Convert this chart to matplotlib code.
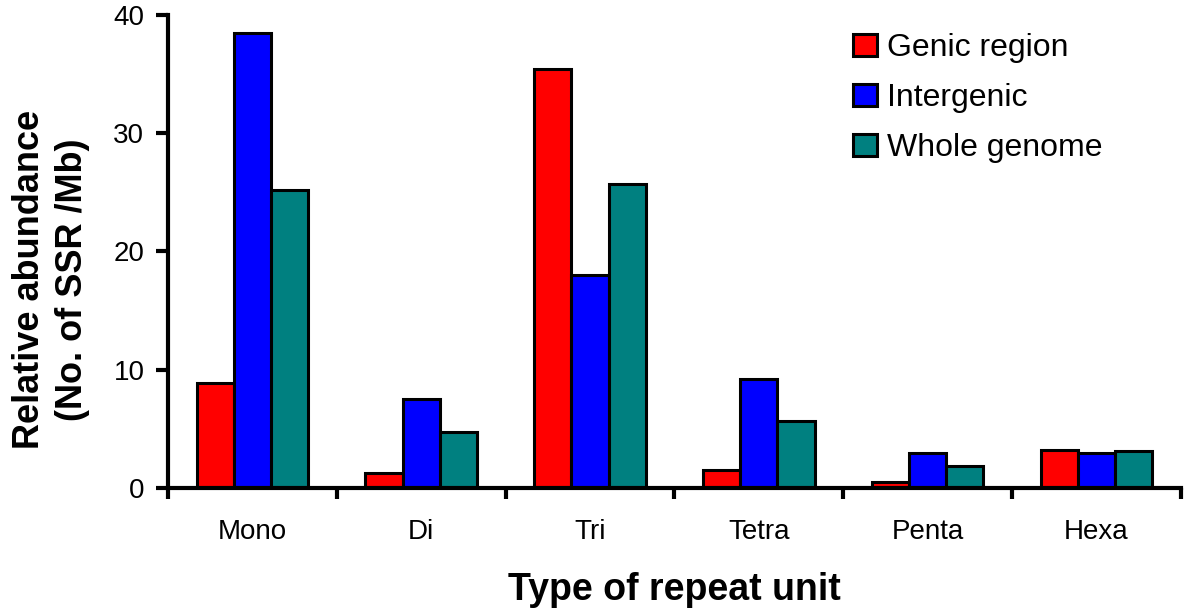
import numpy as np
import matplotlib.pyplot as plt
import matplotlib as mpl
from matplotlib.ticker import FixedLocator

mpl.rcParams["font.family"] = ["Liberation Sans", "DejaVu Sans"]

categories = ["Mono", "Di", "Tri", "Tetra", "Penta", "Hexa"]
genic = [8.9, 1.3, 35.4, 1.5, 0.5, 3.2]
intergenic = [38.5, 7.5, 18.0, 9.2, 3.0, 3.0]
whole = [25.2, 4.7, 25.7, 5.7, 1.9, 3.1]

series = [("Genic region", genic, "#ff0000"),
          ("Intergenic", intergenic, "#0000ff"),
          ("Whole genome", whole, "#008080")]

fig = plt.figure(figsize=(12, 6.12), dpi=100)
ax = fig.add_axes([0.14, 0.2026, 0.844, 0.773])

x = np.arange(len(categories))
w = 0.22
for i, (name, vals, col) in enumerate(series):
    ax.bar(x + (i - 1) * w, vals, w, color=col, edgecolor="black",
           linewidth=2.2, label=name)

ax.set_xlim(-0.5, len(categories) - 0.5)
ax.set_ylim(0, 40)
ax.set_yticks([0, 10, 20, 30, 40])
ax.set_xticks(x)
ax.set_xticklabels(categories)
ax.xaxis.set_minor_locator(FixedLocator(np.arange(-0.5, len(categories), 1)))
ax.tick_params(axis="x", which="major", length=0, pad=22, labelsize=20)
ax.tick_params(axis="x", which="minor", length=8, width=3, direction="out")
ax.tick_params(axis="y", length=9, width=3, direction="out", labelsize=20, pad=8)

for s in ["top", "right"]:
    ax.spines[s].set_visible(False)
for s in ["left", "bottom"]:
    ax.spines[s].set_linewidth(3)

ax.set_xlabel("Type of repeat unit", fontsize=27, fontweight="bold", labelpad=20)
ax.set_ylabel("Relative abundance\n(No. of SSR /Mb)", fontsize=26,
              fontweight="bold", linespacing=1.3)
ax.yaxis.set_label_coords(-0.077, 0.44)

ax.legend(loc="upper left", bbox_to_anchor=(0.711, 0.946),
          bbox_transform=fig.transFigure, frameon=False, fontsize=23,
          handlelength=0.75, handleheight=0.7, handletextpad=0.3,
          labelspacing=0.63, borderpad=0, borderaxespad=0)

plt.savefig("out.png", dpi=100)
